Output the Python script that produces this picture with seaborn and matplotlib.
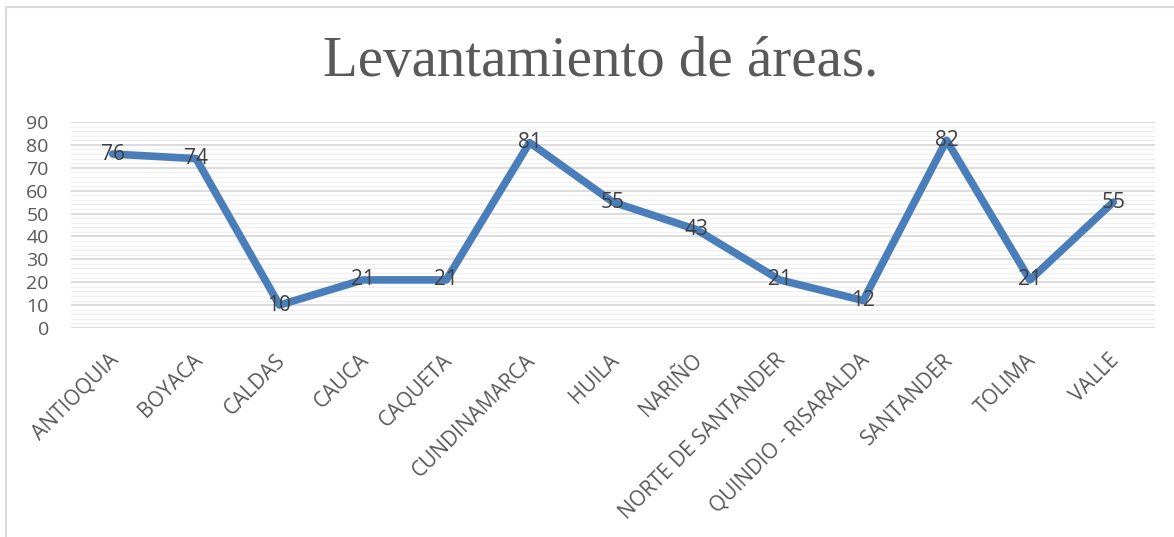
import numpy as np
import pandas as pd
import matplotlib
matplotlib.use("Agg")
import matplotlib.pyplot as plt
from matplotlib.lines import Line2D
from matplotlib.ticker import MultipleLocator
from matplotlib.transforms import ScaledTranslation
import seaborn as sns

departamentos = ['ANTIOQUIA', 'BOYACA', 'CALDAS', 'CAUCA', 'CAQUETA', 'CUNDINAMARCA', 'HUILA',
                 'NARIÑO', 'NORTE DE SANTANDER', 'QUINDIO - RISARALDA', 'SANTANDER', 'TOLIMA', 'VALLE']
areas = [76, 74, 10, 21, 21, 81, 55, 43, 21, 12, 82, 21, 55]
y_ticks = [0, 10, 20, 30, 40, 50, 60, 70, 80, 90]

df = pd.DataFrame({'pos': np.arange(len(departamentos)), 'area': areas})

sns.set_theme(style="white")
plt.rcParams['font.family'] = ['Open Sans', 'DejaVu Sans']

fig = plt.figure(figsize=(11.74, 5.37), dpi=100)
ax = fig.add_axes([71/1174, 1 - 328/537, (1155 - 71)/1174, (328 - 122)/537])

sns.lineplot(data=df, x='pos', y='area', ax=ax, color='#4A7EBB', linewidth=5.5,
             solid_joinstyle='round', solid_capstyle='round', zorder=3)

for i, v in enumerate(areas):
    ax.text(i, v, str(v), ha='center', va='center', fontsize=15, color='#404040', zorder=4)

ax.set_xlim(-0.5, len(departamentos) - 0.5)
ax.set_ylim(0, 90)
ax.set_yticks(y_ticks)
ax.yaxis.set_minor_locator(MultipleLocator(2))
ax.set_xticks(np.arange(len(departamentos)))
ax.set_xticklabels(departamentos, rotation=45, ha='right', va='center', rotation_mode='anchor')
ax.grid(axis='y', which='major', color='#D9D9D9', linewidth=1.3, zorder=0)
ax.grid(axis='y', which='minor', color='#F0F0F0', linewidth=1.0, zorder=0)
ax.grid(axis='x', visible=False)
ax.set_axisbelow(True)
for s in ax.spines.values():
    s.set_visible(False)
ax.tick_params(axis='y', which='both', length=0, pad=16, labelsize=14, labelcolor='#595959')
ax.tick_params(axis='x', length=0, pad=21, labelsize=15, labelcolor='#595959')
offset = ScaledTranslation(0.03, 0, fig.dpi_scale_trans)
for lab in ax.get_xticklabels():
    lab.set_transform(lab.get_transform() + offset)
ax.set_xlabel('')
ax.set_ylabel('')

fig.text(601/1174, 1 - 62/537, 'Levantamiento de áreas.', ha='center', va='center',
         fontsize=41, color='#595959', family=['Liberation Serif', 'DejaVu Serif'])

fig.add_artist(Line2D([6/1174, 6/1174], [0, 1 - 7/537], color='#D9D9D9', linewidth=1.5,
                      transform=fig.transFigure))
fig.add_artist(Line2D([6/1174, 1], [1 - 7/537, 1 - 7/537], color='#D9D9D9', linewidth=1.5,
                      transform=fig.transFigure))

fig.savefig('out.png', dpi=100)
